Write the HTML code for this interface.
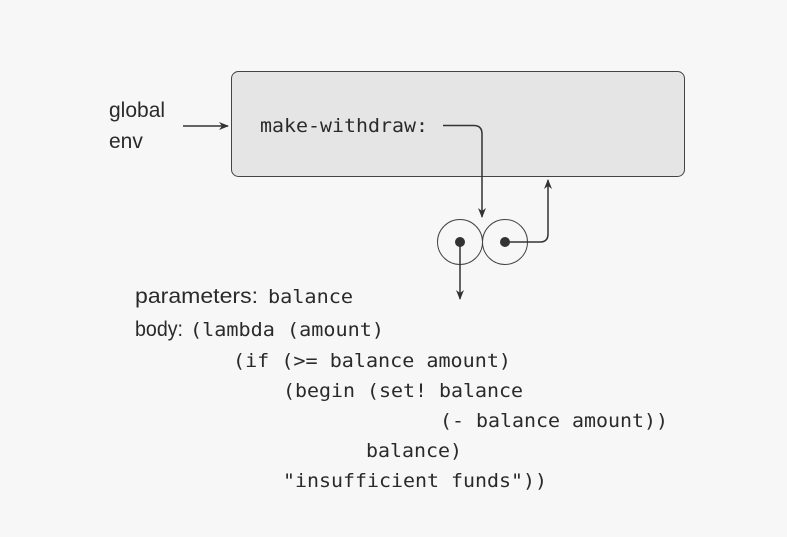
<!DOCTYPE html>
<html><head><meta charset="utf-8"><style>
html,body{margin:0;padding:0;background:#f7f7f7;width:787px;height:537px;overflow:hidden}
svg{display:block}
.s{font-family:"Liberation Sans",sans-serif;font-size:21px;fill:#2a2a2a}
.m{font-family:"DejaVu Sans Mono","Liberation Mono",monospace;font-size:19px;fill:#2a2a2a}
</style></head><body>
<svg width="787" height="537" viewBox="0 0 787 537">
<defs><marker id="a" markerWidth="10" markerHeight="10" refX="9" refY="5" orient="auto" markerUnits="userSpaceOnUse"><path d="M0,1 L10,5 L0,9 L3,5 Z" fill="#333"/></marker></defs>
<rect x="231.5" y="71.5" width="453" height="105" rx="7" fill="#e5e5e5" stroke="#444" stroke-width="1"/>
<text class="s" x="109" y="117">global</text>
<text class="s" x="109" y="148">env</text>
<line x1="183" y1="126" x2="228" y2="126" stroke="#333" stroke-width="1.5" marker-end="url(#a)"/>
<text class="m" x="260" y="132" textLength="168" lengthAdjust="spacingAndGlyphs">make-withdraw:</text>
<path d="M443,125.5 H474 Q482,125.5 482,134 V217" fill="none" stroke="#333" stroke-width="1.5" marker-end="url(#a)"/>
<circle cx="460" cy="242" r="22.5" fill="none" stroke="#444" stroke-width="1"/>
<circle cx="505" cy="242" r="22.5" fill="none" stroke="#444" stroke-width="1"/>
<circle cx="460" cy="242" r="5" fill="#333"/>
<circle cx="505" cy="242" r="5" fill="#333"/>
<path d="M505,242 H540 Q548,242 548,234 V180" fill="none" stroke="#333" stroke-width="1.5" marker-end="url(#a)"/>
<line x1="460" y1="242" x2="460" y2="299" stroke="#333" stroke-width="1.5" marker-end="url(#a)"/>
<text class="s" x="135" y="303" textLength="123" lengthAdjust="spacingAndGlyphs">parameters:</text>
<text class="m" x="268" y="303" textLength="85" lengthAdjust="spacingAndGlyphs">balance</text>
<text class="s" x="135" y="336" textLength="48" lengthAdjust="spacingAndGlyphs">body:</text>
<text class="m" x="190" y="336" textLength="194" lengthAdjust="spacingAndGlyphs">(lambda (amount)</text>
<text class="m" x="233" y="367" textLength="278" lengthAdjust="spacingAndGlyphs">(if (&gt;= balance amount)</text>
<text class="m" x="283" y="397" textLength="240" lengthAdjust="spacingAndGlyphs">(begin (set! balance</text>
<text class="m" x="440" y="427" textLength="228" lengthAdjust="spacingAndGlyphs">(- balance amount))</text>
<text class="m" x="366" y="457" textLength="96" lengthAdjust="spacingAndGlyphs">balance)</text>
<text class="m" x="283" y="487" textLength="264" lengthAdjust="spacingAndGlyphs">"insufficient funds"))</text>
</svg>
</body></html>
